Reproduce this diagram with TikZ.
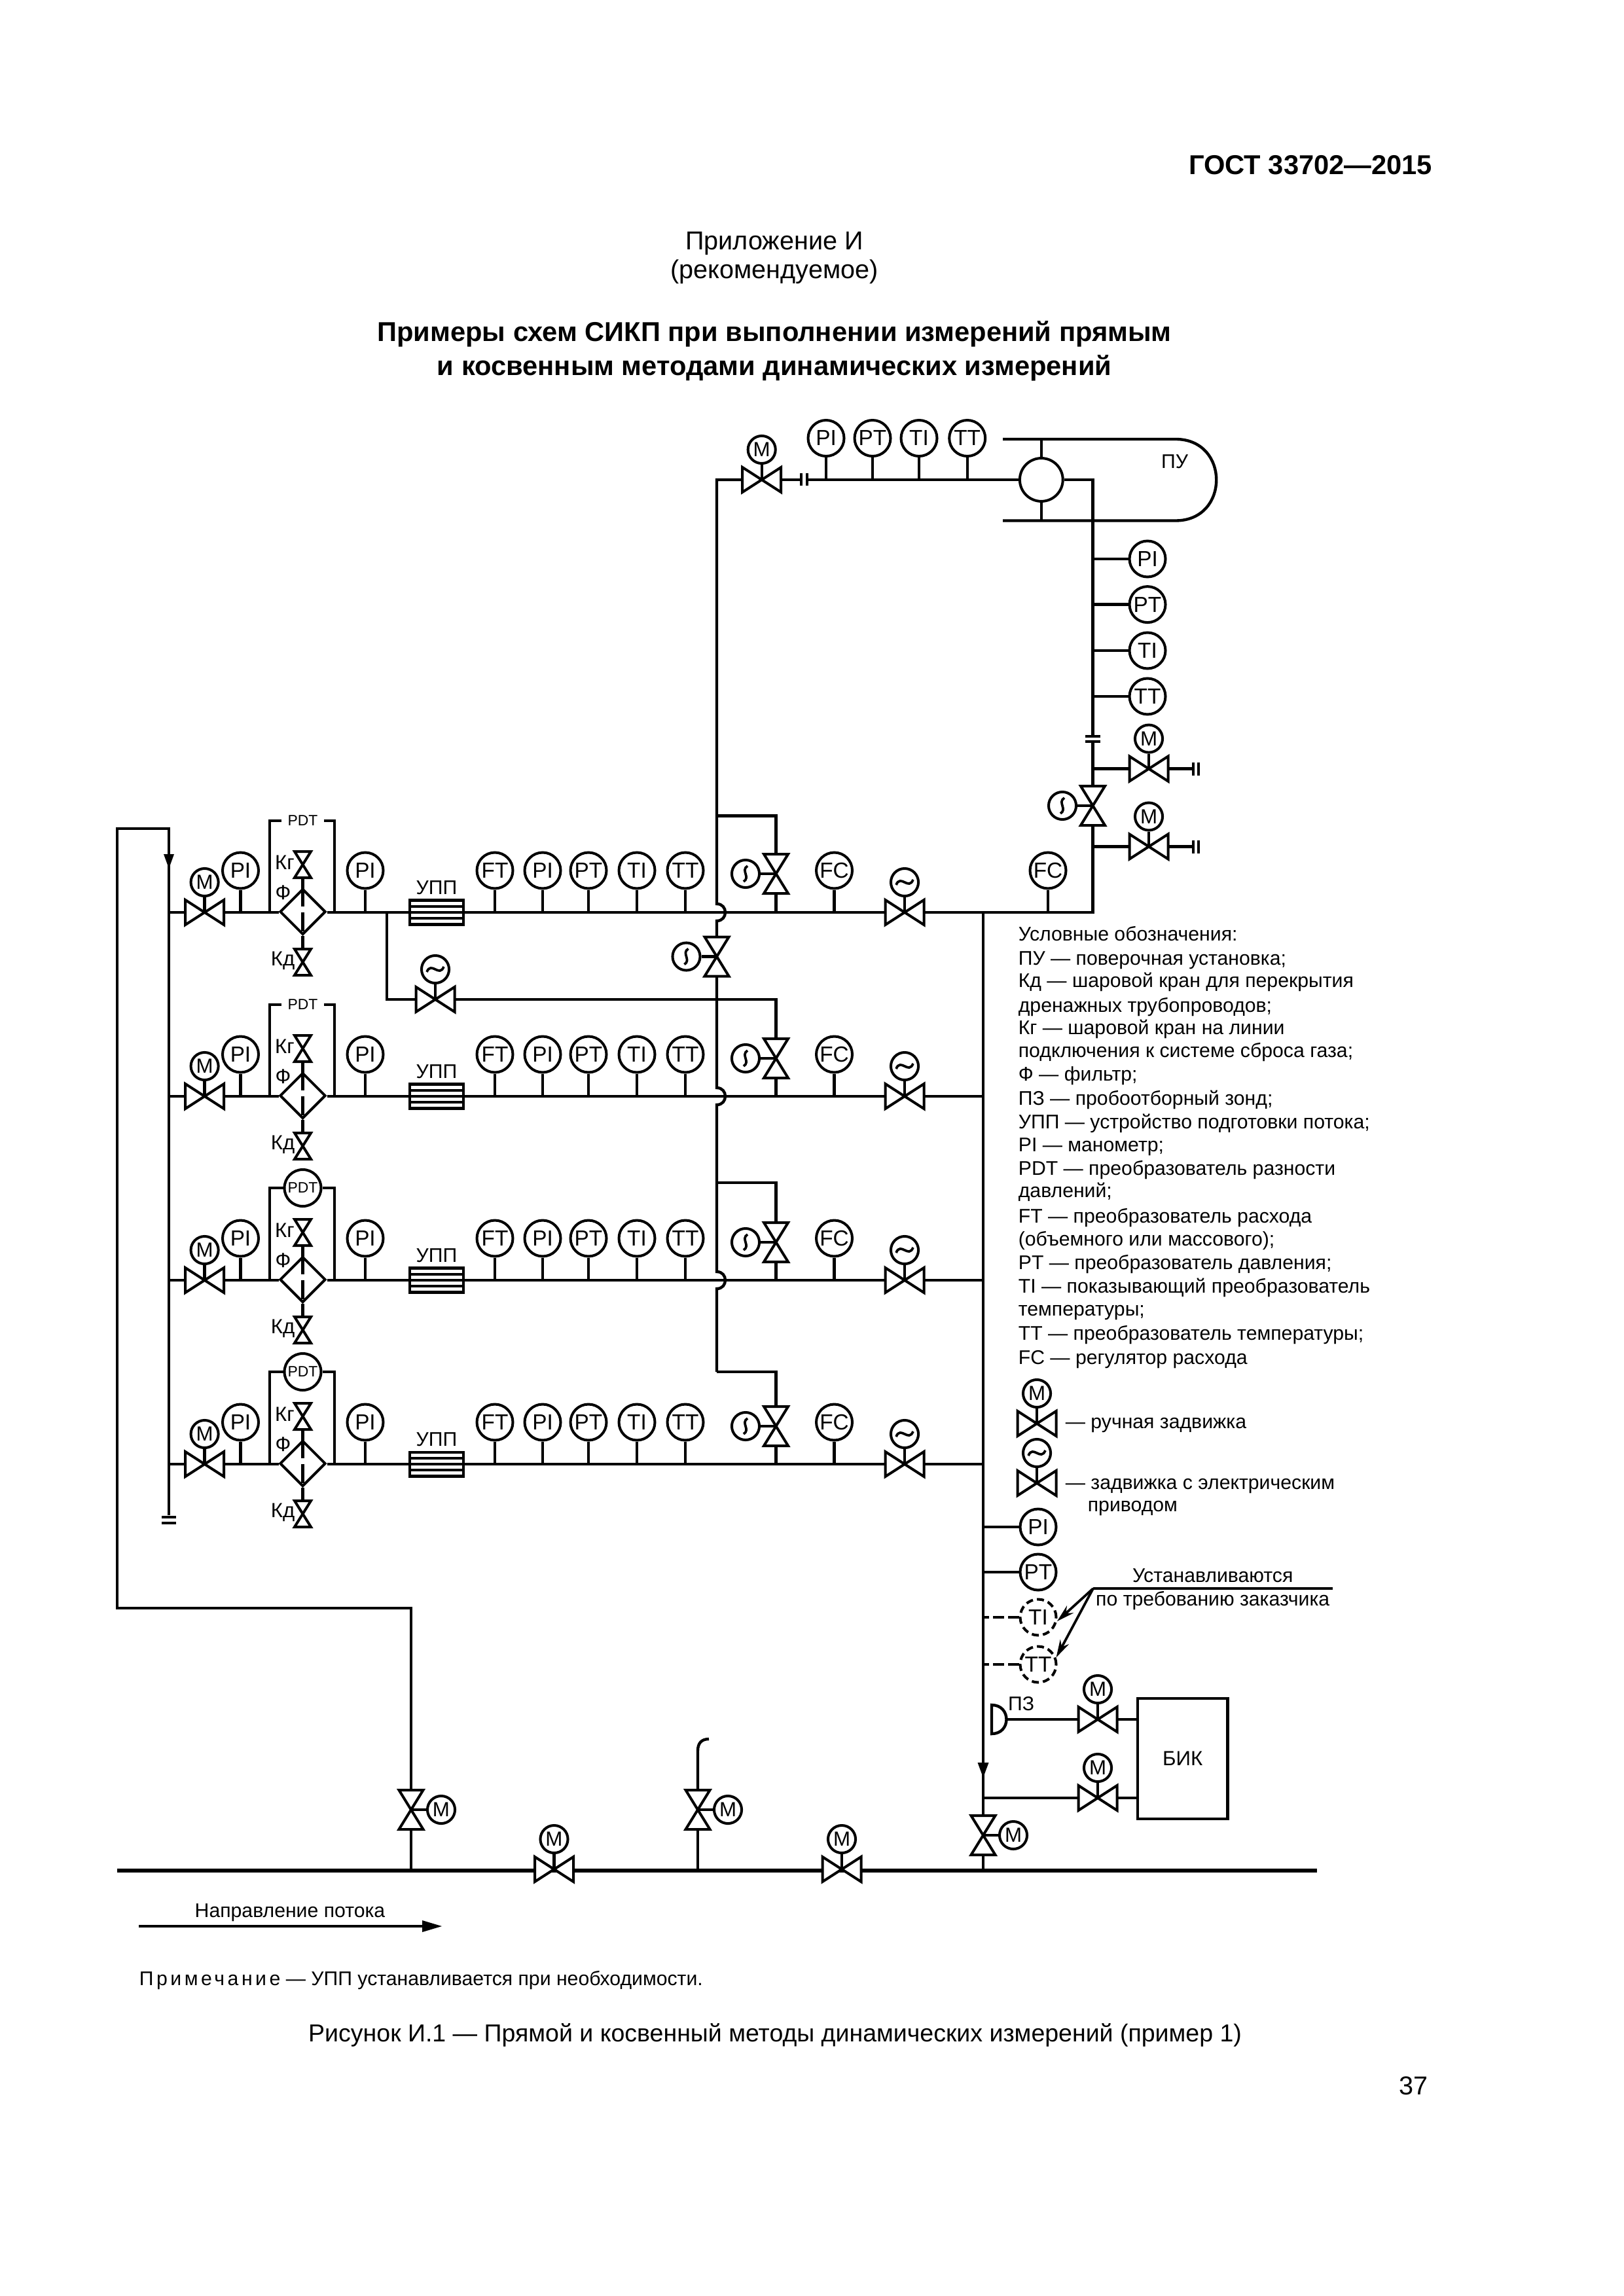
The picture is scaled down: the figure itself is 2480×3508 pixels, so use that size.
\documentclass[tikz,border=0pt]{standalone}
\usepackage{fontspec}
\setmainfont{Liberation Sans}
\usetikzlibrary{calc,shapes.geometric,arrows.meta}
\tikzset{
  pipe/.style={line width=1.05pt,line join=miter},
  mainpipe/.style={line width=1.32pt},
  sym/.style={line width=0.96pt,fill=white,line join=miter},
  curvesym/.style={line width=0.9pt},
  bar/.style={line width=0.95pt},
  inst/.style={circle,draw,line width=0.96pt,fill=white,minimum size=13.2pt,inner sep=0pt,font=\fontsize{8}{8}\selectfont},
  act/.style={circle,draw,line width=0.96pt,fill=white,minimum size=10.1pt,inner sep=0pt,font=\fontsize{7.5}{8}\selectfont},
  dashinst/.style={inst,dash pattern=on 2.6pt off 1.5pt},
  dashpipe/.style={pipe,dash pattern=on 4pt off 1.5pt},
  upp/.style={rectangle,draw,line width=1.05pt,fill=white,minimum width=19.7pt,minimum height=8.8pt,inner sep=0pt},
  filt/.style={diamond,draw,line width=0.96pt,fill=white,minimum width=16.8pt,minimum height=16.8pt,inner sep=0pt,aspect=1},
  smalltxt/.style={font=\fontsize{7.5}{8}\selectfont,inner sep=0pt},
  legtxt/.style={font=\fontsize{7.25}{9}\selectfont,inner sep=0pt,anchor=base west},
  pagetxt/.style={font=\fontsize{9.5}{12}\selectfont,inner sep=0pt,anchor=base},
  boldtxt/.style={font=\fontsize{10}{12}\selectfont\bfseries,inner sep=0pt,anchor=base}
}
\newcommand\hvalve[3]{%
  \coordinate (#1) at (#2,#3);
  \path (#1) ++(-29.5,0) coordinate (#1-l) ++(59,0) coordinate (#1-r);
  \draw[sym] (#1-l) ++(0,-19) -- ++(59,38) -- ++(0,-38) -- ++(-59,38) -- cycle;}
\newcommand\vvalve[3]{%
  \coordinate (#1) at (#2,#3);
  \path (#1) ++(0,-30) coordinate (#1-t) ++(0,60) coordinate (#1-b);
  \draw[sym] (#1-t) ++(-18.5,0) -- ++(37,60) -- ++(-37,0) -- ++(37,-60) -- cycle;}
\newcommand\svalve[3]{%
  \coordinate (#1) at (#2,#3);
  \path (#1) ++(0,-20) coordinate (#1-t) ++(0,40) coordinate (#1-b);
  \draw[sym] (#1-t) ++(-12.5,0) -- ++(25,40) -- ++(-25,0) -- ++(25,-40) -- cycle;}
\newcommand\topM[1]{%
  \path (#1) ++(0,-46) node[act] (#1-a) {M};
  \draw[pipe] (#1) -- (#1-a);}
\newcommand\rightM[1]{%
  \path (#1) ++(46,0) node[act] (#1-a) {M};
  \draw[pipe] (#1) -- (#1-a);}
\newcommand\topT[1]{%
  \path (#1) ++(0,-46) node[act] (#1-a) {};
  \draw[pipe] (#1) -- (#1-a);
  \begin{scope}[shift={(#1-a.center)}]
    \draw[curvesym] (-13,4) .. controls (-6,-13) and (6,13) .. (13,-4);
  \end{scope}}
\newcommand\leftT[1]{%
  \path (#1) ++(-46.5,0) node[act] (#1-a) {};
  \draw[pipe] (#1) -- (#1-a);
  \begin{scope}[shift={(#1-a.center)}]
    \draw[curvesym] (3,-12) .. controls (-8,-5) and (8,5) .. (-3,12);
  \end{scope}}
\begin{document}
\begin{tikzpicture}[x=0.24pt,y=-0.24pt]
\useasboundingbox (0,0) rectangle (2480,3508);
% page text
\node[boldtxt,anchor=base east] (hdr) at (2189,267) {ГОСТ 33702—2015};
\node[pagetxt] (app1) at (1183,382) {Приложение И};
\node[pagetxt] (app2) at (1183,426) {(рекомендуемое)};
\node[boldtxt] (tit1) at (1183,522) {Примеры схем СИКП при выполнении измерений прямым};
\node[boldtxt] (tit2) at (1183,574) {и косвенным методами динамических измерений};
\node[pagetxt,font=\fontsize{9}{12}\selectfont] (cap) at (1184,3119) {Рисунок И.1 — Прямой и косвенный методы динамических измерений (пример 1)};
\node[pagetxt,anchor=base east] (pnum) at (2182,3200) {37};
\node[legtxt] (note) at (212,3033) {{\addfontfeature{LetterSpace=15}Примечание} — УПП устанавливается при необходимости.};
\node[legtxt,anchor=base] (flowt) at (443,2929) {Направление потока};
% main line
\coordinate (mainL) at (179,2858);
\coordinate (mainR) at (2011.6,2858);
\draw[mainpipe] (mainL) -- (mainR);
\hvalve{mb}{846.5}{2856}\topM{mb}
\hvalve{mc}{1286}{2856}\topM{mc}
\vvalve{la}{628}{2765}\rightM{la}
\vvalve{lb}{1066}{2765}\rightM{lb}
\vvalve{lc}{1502}{2804}\rightM{lc}
\coordinate (outerA) at (628,2457);
\coordinate (outerB) at (179,2457);
\coordinate (outerC) at (179,1266);
\coordinate (outerD) at (258,1266);
\coordinate (innerEnd) at (258,2315);
\draw[pipe] (la-t) -- (outerA) -- (outerB) -- (outerC) -- (outerD) -- (innerEnd);
\draw[pipe] (la-b) -- (la-b |- mainL);
\draw[pipe] (lb-b) -- (lb-b |- mainL);
\draw[pipe] (lc-b) -- (lc-b |- mainL);
\coordinate (ventA) at (1066,2675);
\coordinate (ventB) at (1083,2657);
\draw[pipe] (lb-t) -- (ventA) .. controls (1066,2663) and (1072,2657) .. (ventB);
\fill (258,1327) -- (250,1305) -- (266,1305) -- cycle;
\draw[bar,line width=0.85pt] (247,2318) -- (269,2318);
\draw[bar,line width=0.85pt] (247,2327) -- (269,2327);
% flow arrow
\coordinate (flowA) at (212,2943);
\coordinate (flowB) at (650,2943);
\draw[pipe] (flowA) -- (flowB);
\fill (675,2943) -- (645,2934) -- (645,2952) -- cycle;
% rows
\foreach \r/\y in {1/1394,2/1675,3/1956,4/2237}{
  \coordinate (in\r) at (258,\y);
  \coordinate (out\r) at (1502,\y);
  \coordinate (brl\r) at (412,\y);
  \coordinate (brr\r) at (511,\y);
  \hvalve{mv\r}{312.6}{\y}\topM{mv\r}
  \node[filt] (dia\r) at (462.5,\y-1) {};
  \draw[pipe,dash pattern=on 7pt off 2pt] (dia\r.north) -- (dia\r.south);
  \node[upp] (upp\r) at (667,\y) {};
  \draw[pipe] ($(upp\r.west)+(0,-9)$) -- ($(upp\r.east)+(0,-9)$);
  \draw[pipe] (upp\r.west) -- (upp\r.east);
  \draw[pipe] ($(upp\r.west)+(0,9)$) -- ($(upp\r.east)+(0,9)$);
  \node[smalltxt,font=\fontsize{7.25}{8}\selectfont] (upl\r) at (667,\y-38) {УПП};
  \hvalve{rv\r}{1382}{\y}\topT{rv\r}
  \draw[pipe] (in\r) -- (mv\r-l);
  \draw[pipe] (mv\r-r) -- (dia\r.west |- in\r);
  \draw[pipe] (dia\r.east |- in\r) -- (upp\r.west);
  \draw[pipe] (upp\r.east) -- (rv\r-l);
  \draw[pipe] (rv\r-r) -- (out\r);
  \foreach \n/\x/\t in {a/367.5/PI,b/558/PI,c/756/FT,d/829/PI,e/899/PT,f/973/TI,g/1047/TT,h/1274.5/FC}{
    \node[inst] (\n\r) at (\x,\y-64) {\t};
    \draw[pipe] (\n\r) -- (\n\r |- out\r);
  }
  \svalve{kg\r}{462.5}{\y-73}
  \svalve{kd\r}{462.5}{\y+76}
  \draw[pipe] (kg\r-b) -- (dia\r.north);
  \draw[pipe] (dia\r.south) -- (kd\r-t);
  \node[smalltxt] (kgl\r) at (435,\y-76) {Кг};
  \node[smalltxt] (fl\r) at (432.5,\y-30) {Ф};
  \node[smalltxt] (kdl\r) at (432,\y+74) {Кд};
}
\foreach \r/\y in {1/1394,2/1675}{
  \node[inner xsep=2pt,inner ysep=0pt,font=\fontsize{5.5}{6}\selectfont] (pdt\r) at (462.5,\y-140) {PDT};
  \draw[pipe] (brl\r) |- (pdt\r.west);
  \draw[pipe] (brr\r) |- (pdt\r.east);
}
\foreach \r/\y in {3/1956,4/2237}{
  \node[inst,minimum size=13.44pt,font=\fontsize{5.5}{6}\selectfont] (pdt\r) at (462.5,\y-141) {PDT};
  \draw[pipe] (brl\r) |- (pdt\r.west);
  \draw[pipe] (brr\r) |- (pdt\r.east);
}
% left-hand bus with hops
\coordinate (topL) at (1095,733);
\foreach \r/\y in {1/1394,2/1675,3/1956}{
  \coordinate (ha\r) at (1095,\y-13);
  \coordinate (hb\r) at (1095,\y+13);
}
\coordinate (j1) at (1095,1246.5);
\coordinate (j2) at (1095,1527);
\coordinate (j3) at (1095,1807);
\coordinate (j4) at (1095,2096);
\vvalve{xv}{1095}{1461.5}\leftT{xv}
\hvalve{tv}{1163.7}{733}\topM{tv}
\draw[pipe] (tv-l) -- (topL) -- (ha1) .. controls +(17.3,0) and +(17.3,0) .. (hb1) -- (xv-t);
\draw[pipe] (xv-b) -- (ha2) .. controls +(17.3,0) and +(17.3,0) .. (hb2) -- (ha3) .. controls +(17.3,0) and +(17.3,0) .. (hb3) -- (j4);
\foreach \r/\y in {1/1335,2/1617,3/1898,4/2179}{
  \vvalve{vv\r}{1185.5}{\y}\leftT{vv\r}
  \draw[pipe] (j\r) -| (vv\r-t);
  \draw[pipe] (vv\r-b) -- (vv\r-b |- out\r);
}
% branch of row 1
\coordinate (bra) at (591,1394);
\hvalve{brv}{665}{1527}\topT{brv}
\draw[pipe] (bra) |- (brv-l);
\draw[pipe] (brv-r) -- (j2);
% top run
\coordinate (fa) at (1224,733);
\coordinate (fb) at (1232.5,733);
\draw[pipe] (tv-r) -- (fa);
\draw[bar] (1224,723.5) -- (1224,742.5);
\draw[bar] (1232.5,723.5) -- (1232.5,742.5);
\node[inst,minimum size=15.8pt] (bigc) at (1590.8,733) {};
\draw[pipe] (fb) -- (bigc.west);
\foreach \n/\x/\t in {A/1262/PI,B/1333/PT,C/1404/TI,D/1477.7/TT}{
  \node[inst] (top\n) at (\x,669.5) {\t};
  \draw[pipe] (top\n) -- (top\n |- bigc);
}
\coordinate (puTL) at (1532,671);
\coordinate (puTR) at (1796,671);
\coordinate (puBR) at (1796,795.5);
\coordinate (puBL) at (1532,795.5);
\draw[pipe] (puTL) -- (puTR) .. controls +(83,0) and +(83,0) .. (puBR) -- (puBL);
\draw[pipe] (bigc.north) -- (bigc |- puTL);
\draw[pipe] (bigc.south) -- (bigc |- puBL);
\node[smalltxt,font=\fontsize{7.25}{8}\selectfont] (pul) at (1794.6,705) {ПУ};
% right vertical
\coordinate (rj) at (1669.5,733);
\coordinate (rowend) at (1669.5,1394);
\coordinate (fc) at (1669.5,1125);
\coordinate (fd) at (1669.5,1133);
\draw[pipe] (bigc.east) -- (rj) -- (fc);
\draw[bar] (1658,1125) -- (1681,1125);
\draw[bar] (1658,1133) -- (1681,1133);
\vvalve{yv}{1669.5}{1231}\leftT{yv}
\draw[pipe] (fd) -- (yv-t);
\draw[pipe] (yv-b) -- (rowend) -- (out1);
\node[inst] (fcr) at (1601,1330) {FC};
\draw[pipe] (fcr) -- (fcr |- rowend);
\foreach \n/\y/\t in {A/854/PI,B/923.6/PT,C/994/TI,D/1064/TT}{
  \node[inst] (r\n) at (1753,\y) {\t};
  \draw[pipe] (r\n) -- (r\n -| rj);
}
\foreach \n/\y in {a/1174.6,b/1293.5}{
  \hvalve{q\n}{1755}{\y}\topM{q\n}
  \draw[pipe] (q\n-l -| rj) -- (q\n-l);
  \coordinate (qe\n) at (1822.7,\y);
  \draw[pipe] (q\n-r) -- (qe\n);
  \draw[bar] (1822.7,\y-10) -- (1822.7,\y+10);
  \draw[bar] (1831.3,\y-10) -- (1831.3,\y+10);
}
% lower column
\draw[pipe] (out1) -- (lc-t);
\fill (1502,2716) -- (1493.5,2693) -- (1510.5,2693) -- cycle;
\node[inst] (ci1) at (1586,2333) {PI};
\node[inst] (ci2) at (1586,2402) {PT};
\node[dashinst] (ci3) at (1586,2471) {TI};
\node[dashinst] (ci4) at (1586,2543) {TT};
\draw[pipe] (ci1) -- (ci1 -| lc);
\draw[pipe] (ci2) -- (ci2 -| lc);
\draw[dashpipe] (ci3) -- (ci3 -| lc);
\draw[dashpipe] (ci4) -- (ci4 -| lc);
\coordinate (ldr) at (1670,2427);
\coordinate (ldrE) at (2036,2427);
\draw[pipe,line width=0.9pt] (ldr) -- (ldrE);
\draw[pipe,line width=0.9pt,-{Stealth[length=6.5pt,width=3.6pt]}] (ldr) -- (ci3.-12);
\draw[pipe,line width=0.9pt,-{Stealth[length=6.5pt,width=3.6pt]}] (ldr) -- (ci4.21);
\node[legtxt,anchor=base] (ust) at (1852.7,2417) {Устанавливаются};
\node[legtxt,anchor=base] (potr) at (1852.7,2453) {по требованию заказчика};
\node[rectangle,draw,line width=1.05pt,minimum width=33pt,minimum height=44.2pt,inner sep=0pt,font=\fontsize{7.5}{8}\selectfont] (bik) at (1806.7,2687) {БИК};
\hvalve{za}{1677}{2627}\topM{za}
\hvalve{zb}{1677}{2747}\topM{zb}
\coordinate (probeT) at (1515,2605);
\coordinate (probeB) at (1515,2649);
\coordinate (probeN) at (1538,2627);
\draw[pipe] (probeT) .. controls +(30,0) and +(30,0) .. (probeB) -- cycle;
\draw[pipe] (probeN) -- (za-l);
\draw[pipe] (za-r) -- (za-r -| bik.west);
\draw[pipe] (zb-l -| lc) -- (zb-l);
\draw[pipe] (zb-r) -- (zb-r -| bik.west);
\node[smalltxt,font=\fontsize{7.25}{8}\selectfont] (pzl) at (1560,2603) {ПЗ};
% legend
\foreach \i/\y/\t in {
  a/1440/{Условные обозначения:},
  b/1477/{ПУ — поверочная установка;},
  c/1511/{Кд — шаровой кран для перекрытия},
  d/1549/{дренажных трубопроводов;},
  e/1583/{Кг — шаровой кран на линии},
  f/1618/{подключения к системе сброса газа;},
  g/1654/{Ф — фильтр;},
  h/1691/{ПЗ — пробоотборный зонд;},
  i/1727/{УПП — устройство подготовки потока;},
  j/1762/{PI — манометр;},
  k/1798/{PDT — преобразователь разности},
  l/1832/{давлений;},
  m/1871/{FT — преобразователь расхода},
  n/1906/{(объемного или массового);},
  o/1942/{PT — преобразователь давления;},
  p/1978/{TI — показывающий преобразователь},
  q/2013/{температуры;},
  r/2050/{TT — преобразователь температуры;},
  s/2087/{FC — регулятор расхода}}{
  \node[legtxt] (leg\i) at (1555,\y-3) {\t};
}
\hvalve{lm}{1584}{2175}\topM{lm}
\hvalve{lt}{1584}{2266}\topT{lt}
\node[legtxt] (lgm) at (1627,2182) {— ручная задвижка};
\node[legtxt] (lgt) at (1627,2275) {— задвижка с электрическим};
\node[legtxt] (lgt2) at (1661,2309) {приводом};
\end{tikzpicture}
\end{document}
